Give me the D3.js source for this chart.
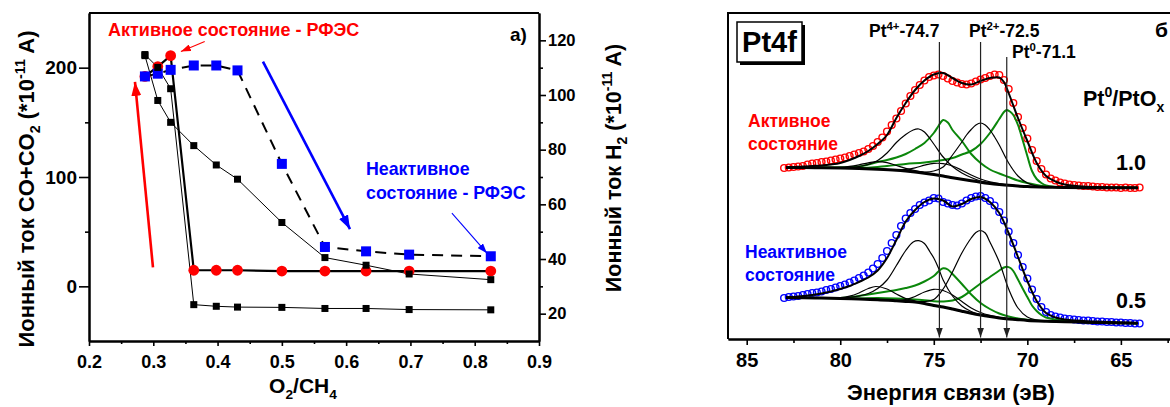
<!DOCTYPE html>
<html><head><meta charset="utf-8">
<script src="https://cdn.jsdelivr.net/npm/d3@7"></script>
<style>
html,body{margin:0;padding:0;background:#fff;}
svg{display:block;}
text{font-family:'Liberation Sans',Arial,sans-serif;font-weight:bold;fill:#000;}
</style>
</head><body>
<svg id="c" width="1170" height="407"></svg>
<script>
// ---------------- LEFT PANEL DATA ----------------
const ratio = [0.287,0.307,0.327,0.363,0.398,0.431,0.5,0.567,0.631,0.698,0.825];
const activeXPS   = [192,201,211,14.7,14.7,14.7,14,14,14,14,14];          // red circles (left axis)
const inactiveXPS = [192,194.5,198,202,202,197.5,112,36,32,29,27.5];     // blue squares (left axis)
const coTotal     = [211,170,150,128.7,111,98,58.4,26.3,19.3,11.3,6.1];   // black squares (left axis)
const h2Current   = [114.8,110.1,102.3,23.3,22.7,22.4,22.3,21.9,21.9,21.5,21.4]; // black squares (right axis)

const xTicksL = [0.2,0.3,0.4,0.5,0.6,0.7,0.8,0.9];
const xMinorL = [0.25,0.35,0.45,0.55,0.65,0.75,0.85];
const yTicksL = [0,100,200];
const yMinorL = [50,150];
const yTicksR = [20,40,60,80,100,120];
const yMinorR = [30,50,70,90,110];

// ---------------- RIGHT PANEL DATA ----------------
const dataEnergy = [83,82.75,82.5,82.25,82,81.75,81.5,81.25,81,80.75,80.5,80.25,80,79.75,79.5,79.25,79,78.75,78.5,78.25,78,77.75,77.5,77.25,77,76.75,76.5,76.25,76,75.75,75.5,75.25,75,74.75,74.5,74.25,74,73.75,73.5,73.25,73,72.75,72.5,72.25,72,71.75,71.5,71.25,71,70.75,70.5,70.25,70,69.75,69.5,69.25,69,68.75,68.5,68.25,68,67.75,67.5,67.25,67,66.75,66.5,66.25,66,65.75,65.5,65.25,65,64.75,64.5,64.25,64];
const activeCounts = [171,171.5,172,172.5,173,174.5,175.5,176,177,177.5,178.5,179.5,180.5,181.5,183,184.5,186,187.5,190,193,197,201.5,207.5,214,220.5,228,235.5,243,249,254,258.5,262,263.5,264.5,263,260.5,258,256.5,255,254.5,255.5,257.5,259.5,261,263,264.5,264,259,250,236,222,211,200.5,189,178,170,164.5,160.5,158.5,156.5,155.5,154.5,154,153.5,153,153,152.5,152,152,151.5,151.5,151.5,151,151.5,151,151,151.5];
const inactiveCounts = [41,42,42.5,43,44,45,46,46.5,47.5,49,50,51.5,53,54.5,56.5,58.5,61,63.5,66.5,70.5,75,81,88,96,104,113,120.5,126,130,134,136.5,138.5,141,140.5,137,135.5,134,133.5,135.5,138.5,141,142.5,143,141,138,133.5,127,118.5,107.5,96,84,72,60.5,49.5,40,32,27,24,22.5,21.5,20.5,20,19.5,19,18.5,18.5,18,17.5,17.5,17,17,16.5,16.5,16,16,15.5,15.5];

const envActive = [[82.9,171.5],[82.5,171.8],[82,172.5],[81.5,173],[81,173.5],[80.5,174.5],[80,176],[79.5,179],[79,183],[78.5,188],[78,195],[77.5,204],[77,221],[76.5,236],[76,249],[75.5,258.5],[75,264.5],[74.5,266],[74,261],[73.5,256],[73,254.5],[72.5,258],[72,261],[71.5,261.5],[71.25,257],[71,246],[70.5,221],[70,198],[69.5,176],[69,163],[68.5,157.5],[68,154.5],[67,152.5],[66,151.8],[65,151.3],[64.1,151.3]];
const bgActive = [[82.9,171.5],[82,171.4],[81,171.3],[80,171],[79,170.5],[78,169.8],[77,168.8],[76.5,168],[76,167],[75.5,165.8],[75,164.5],[74.5,163],[74,161.3],[73.5,159.7],[73,158.2],[72.5,156.8],[72,155.6],[71.5,154.6],[71,153.7],[70.5,153],[70,152.4],[69,151.8],[68,151.5],[66,151.3],[64.1,151.3]];
const greenA1 = [[82.9,171.5],[81,171.4],[80,171.5],[79,172.5],[78.5,174.5],[78,177],[77.5,179],[77,181.5],[76.5,185],[76,190],[75.5,196],[75,206],[74.75,213],[74.5,219],[74.25,216.5],[74,209],[73.5,198],[73,185],[72.5,176],[72,169.5],[71.5,165.5],[71,162],[70.5,158.5],[70,156],[69.5,154],[69,152.5],[68,151.6],[66,151.3],[64.1,151.3]];
const greenA2 = [[82.9,171.5],[80,171.2],[78.5,171.2],[77.5,173],[76.5,175],[75.5,176.5],[74.5,179],[74,181],[73.5,184.5],[73,188],[72.5,195],[72,206],[71.5,220],[71.25,227],[71.1,229],[70.9,227],[70.75,224],[70.5,214],[70.25,199],[70,183],[69.75,168],[69.5,160],[69.25,156],[69,153.5],[68.5,152],[68,151.6],[66,151.3],[64.1,151.3]];
const blackA1 = [[82.9,171.5],[81,171.3],[80,171.2],[79.5,171.6],[79,172.5],[78.5,174.5],[78,178.5],[77.5,186],[77,196.5],[76.5,204.5],[76.1,209],[75.8,210],[75.5,207],[75,195],[74.5,182],[74,172.5],[73.5,166],[73,161.5],[72.5,158],[72,156],[71.5,154.7],[71,153.8],[70,152.4],[68,151.5],[64.1,151.3]];
const blackA2 = [[82.9,171.5],[78,169.9],[76.5,168.2],[76,167.5],[75.5,167],[75,168],[74.5,172],[74,184],[73.5,197],[73.25,204],[73,209.5],[72.75,214],[72.5,216],[72.25,214],[72,209],[71.75,202],[71.5,194],[71,176],[70.5,163],[70,156],[69.5,153],[69,152],[68,151.5],[64.1,151.3]];
const blackA3 = [[82.9,171.5],[81,171.4],[80,171.6],[79.5,172.6],[79,174.2],[78.5,176.2],[78,177.3],[77.5,176.3],[77,173.5],[76.5,170.6],[76,168.3],[75.5,166.3],[75,164.7],[74,161.4],[72,155.6],[70,152.4],[68,151.5],[64.1,151.3]];
const blackA4 = [[82.9,171.5],[78,169.9],[77,169.2],[76.5,169.6],[76,171.2],[75.5,173.8],[75,175.6],[74.5,175.4],[74,173],[73.5,168.8],[73,164],[72.5,160],[72,157.2],[71.5,155.4],[71,154.1],[70,152.5],[68,151.5],[64.1,151.3]];

const envInactive = [[82.9,41.5],[82.5,42],[82,43],[81.5,44],[81,45.5],[80.5,47.5],[80,50],[79.5,53],[79,57],[78.5,61.5],[78,68.5],[77.5,81],[77,99],[76.5,117.5],[76,129],[75.5,137],[75,140.5],[74.5,138.5],[74,132.5],[73.5,135],[73,140],[72.5,142],[72,137],[71.5,126],[71,106],[70.5,82],[70,58],[69.5,38],[69,26],[68.5,21.5],[68,19.5],[67,18],[66,17.2],[65,16.5],[64.1,15.7]];
const bgInactive = [[82.9,41.5],[82,41.2],[81,40.9],[80,40.5],[79,40],[78,39.3],[77,38.2],[76.5,37.6],[76,37],[75.5,35.5],[75,33.5],[74.5,32],[74,30],[73.5,27.8],[73,25.7],[72.5,23.9],[72,22.4],[71.5,21.1],[71,20.1],[70.5,19.3],[70,18.6],[69,17.8],[68,17.2],[67,16.8],[66,16.4],[65,16],[64.1,15.7]];
const greenI1 = [[82.9,41.5],[81,41],[80,41],[79.5,41.8],[79,43],[78.5,44.5],[78,46],[77.5,47.5],[77,49],[76.5,51],[76,53.5],[75.5,57.5],[75,63],[74.75,67.5],[74.5,70.7],[74.25,69.5],[74,65],[73.5,55],[73,44.5],[72.5,36],[72,30],[71.5,25.5],[71,22.5],[70.5,20.5],[70,19.2],[69,17.9],[68,17.2],[66,16.4],[64.1,15.7]];
const greenI2 = [[82.9,41.5],[80,40.7],[79,40.6],[78,41],[77,40.5],[76,39.5],[75,37.8],[74.5,37.6],[74,38.5],[73.5,42],[73,48.5],[72.5,55.5],[72,62],[71.5,68.5],[71.25,71.5],[71.1,72.3],[70.9,71],[70.75,68],[70.5,59.5],[70.25,50.5],[70,42],[69.75,33.5],[69.5,28],[69.25,24],[69,21.5],[68.5,19.5],[68,18.2],[67,17],[66,16.4],[64.1,15.7]];
const blackI1 = [[82.9,41.5],[81,41],[80,41],[79.5,41.8],[79,43],[78.5,45.5],[78,50.5],[77.5,59],[77,73.5],[76.5,88.5],[76.1,97],[75.8,98.3],[75.5,95.5],[75.2,87],[75,81],[74.75,71],[74.5,59],[74,43],[73.5,33],[73,27.5],[72.5,24.5],[72,22.6],[71.5,21.2],[71,20.2],[70,18.6],[68,17.2],[66,16.4],[64.1,15.7]];
const blackI2 = [[82.9,41.5],[78,39.4],[76.5,37.8],[76,37.4],[75.5,37.5],[75,39.5],[74.5,50],[74,67],[73.5,86],[73,101],[72.75,106.5],[72.5,108.5],[72.25,106],[72,97],[71.5,77],[71,50],[70.5,31],[70,22],[69.5,19],[69,17.9],[68,17.2],[66,16.4],[64.1,15.7]];
const blackI3 = [[82.9,41.5],[81,41],[80,41.3],[79.5,42.8],[79,46],[78.5,50.5],[78.1,52.5],[77.5,50],[77,45],[76.5,40.5],[76,38],[75.5,35.8],[75,33.6],[74,30],[72,22.4],[70,18.6],[68,17.2],[64.1,15.7]];
const blackI4 = [[82.9,41.5],[78,39.4],[77,38.6],[76.5,39.5],[76,42.5],[75.5,47],[75,49.7],[74.5,48.5],[74,44],[73.5,37.5],[73,31],[72.5,26.5],[72,23.6],[71.5,21.6],[71,20.3],[70,18.7],[68,17.2],[64.1,15.7]];

const peakLines = [{e:74.7, top:297, label:'Pt', sup:'4+', rest:'-74.7'},
                   {e:72.5, top:297, label:'Pt', sup:'2+', rest:'-72.5'},
                   {e:71.1, top:282, label:'Pt', sup:'0',  rest:'-71.1'}];
const xTicksE = [85,80,75,70,65];
const xMinorE = [82.5,77.5,72.5,67.5,62.5];

// ---------------- SETUP ----------------
const svg = d3.select('#c');
svg.append('rect').attr('width',1170).attr('height',407).attr('fill','#fff');
const defs = svg.append('defs');
function mkArrow(id, color, w, l){
  defs.append('marker').attr('id',id).attr('viewBox',`0 0 ${l} ${w}`)
    .attr('refX',l).attr('refY',w/2).attr('markerWidth',l).attr('markerHeight',w)
    .attr('markerUnits','userSpaceOnUse').attr('orient','auto')
    .append('path').attr('d',`M0,0L${l},${w/2}L0,${w}Z`).attr('fill',color);
}
mkArrow('arRedBig','#ff0000',10,14);
mkArrow('arBlueBig','#0000ff',10,14);
mkArrow('arRedSm','#ff0000',7,10);
mkArrow('arBlueSm','#0000ff',7,10);
mkArrow('arBlk','#222',7,10);

function rich(sel, parts, size){
  let shift = 0;
  parts.forEach(p=>{
    const ts = sel.append('tspan').text(p.t);
    const target = p.s==='sup' ? -0.42*size : (p.s==='sub' ? 0.28*size : 0);
    if (target-shift !== 0) ts.attr('dy', target-shift);
    shift = target;
    if (p.s) ts.attr('font-size', (size*0.65).toFixed(1)+'px');
  });
}

// ---------------- LEFT PANEL ----------------
const xL = d3.scaleLinear().domain([0.2,0.9]).range([89,539]);
const yL = d3.scaleLinear().domain([-50,250]).range([341,13]);
const yR = d3.scaleLinear().domain([10,130]).range([341,13]);
const gL = svg.append('g');

const lineOf = (ys, sc) => d3.line().x((d,i)=>xL(ratio[i])).y(d=>sc(d))(ys);
gL.append('path').attr('d',lineOf(activeXPS,yL)).attr('fill','none').attr('stroke','#000').attr('stroke-width',2.2);
gL.append('path').attr('d',lineOf(inactiveXPS,yL)).attr('fill','none').attr('stroke','#000').attr('stroke-width',2).attr('stroke-dasharray','11,8');
gL.append('path').attr('d',lineOf(coTotal,yL)).attr('fill','none').attr('stroke','#000').attr('stroke-width',1);
gL.append('path').attr('d',lineOf(h2Current,yR)).attr('fill','none').attr('stroke','#000').attr('stroke-width',1);

gL.selectAll('circle.act').data(activeXPS).join('circle').attr('class','act')
  .attr('cx',(d,i)=>xL(ratio[i])).attr('cy',d=>yL(d)).attr('r',5.4).attr('fill','#ff0000');
gL.selectAll('rect.inact').data(inactiveXPS).join('rect').attr('class','inact')
  .attr('x',(d,i)=>xL(ratio[i])-5).attr('y',d=>yL(d)-5).attr('width',10).attr('height',10).attr('fill','#0000ff');
gL.selectAll('rect.co').data(coTotal).join('rect').attr('class','co')
  .attr('x',(d,i)=>xL(ratio[i])-3.5).attr('y',d=>yL(d)-3.5).attr('width',7).attr('height',7).attr('fill','#000');
gL.selectAll('rect.h2').data(h2Current).join('rect').attr('class','h2')
  .attr('x',(d,i)=>xL(ratio[i])-3.5).attr('y',d=>yR(d)-3.5).attr('width',7).attr('height',7).attr('fill','#000');

// axes
const axB = gL.append('g').attr('transform','translate(0,341)')
  .call(d3.axisBottom(xL).tickValues(xTicksL).tickFormat(d3.format('.1f')).tickSize(5).tickSizeOuter(0));
axB.selectAll('text').attr('y',27).attr('dy',null).style('font-size','18px');
gL.append('g').attr('transform','translate(0,341)')
  .call(d3.axisBottom(xL).tickValues(xMinorL).tickFormat('').tickSize(3).tickSizeOuter(0));
const axLft = gL.append('g').attr('transform','translate(89,0)')
  .call(d3.axisLeft(yL).tickValues(yTicksL).tickSize(10).tickPadding(2).tickSizeOuter(0));
axLft.selectAll('text').style('font-size','19px');
gL.append('g').attr('transform','translate(89,0)')
  .call(d3.axisLeft(yL).tickValues(yMinorL).tickFormat('').tickSize(4).tickSizeOuter(0));
const axRt = gL.append('g').attr('transform','translate(539,0)')
  .call(d3.axisRight(yR).tickValues(yTicksR).tickSize(7).tickPadding(2).tickSizeOuter(0));
axRt.selectAll('text').style('font-size','16.5px');
gL.append('g').attr('transform','translate(539,0)')
  .call(d3.axisRight(yR).tickValues(yMinorR).tickFormat('').tickSize(4).tickSizeOuter(0));
gL.append('line').attr('x1',89).attr('x2',539).attr('y1',13).attr('y2',13).attr('stroke','#000').attr('stroke-width',2);
gL.selectAll('.domain').attr('stroke-width',2);
gL.selectAll('.tick line').attr('stroke-width',1.6);

// annotations (data coordinates)
function arrowL(x1,y1,x2,y2,color,w,marker){
  gL.append('line').attr('x1',xL(x1)).attr('y1',yL(y1)).attr('x2',xL(x2)).attr('y2',yL(y2))
    .attr('stroke',color).attr('stroke-width',w).attr('marker-end',`url(#${marker})`);
}
arrowL(0.2995,17.4,0.2715,187,'#ff0000',2.6,'arRedBig');
arrowL(0.4706,205.5,0.606,52.3,'#0000ff',2.6,'arBlueBig');
arrowL(0.380,223.9,0.343,214.7,'#ff0000',1.1,'arRedSm');
arrowL(0.7645,67,0.819,30.3,'#0000ff',1.1,'arBlueSm');

svg.append('text').attr('x',108).attr('y',36).style('fill','#ff0000').style('font-size','18px').text('Активное состояние - РФЭС');
svg.append('text').attr('x',366).attr('y',175).style('fill','#0000ff').style('font-size','17.8px').text('Неактивное');
svg.append('text').attr('x',366).attr('y',199).style('fill','#0000ff').style('font-size','17.8px').text('состояние - РФЭС');
svg.append('text').attr('x',510).attr('y',41).style('font-size','19px').text('а)');

const tL = svg.append('text').attr('transform','translate(34,189) rotate(-90)').attr('text-anchor','middle').style('font-size','22px');
rich(tL,[{t:'Ионный ток CO+CO'},{t:'2',s:'sub'},{t:' (*10'},{t:'-11',s:'sup'},{t:' A)'}],22);
const tR = svg.append('text').attr('transform','translate(621,168) rotate(-90)').attr('text-anchor','middle').style('font-size','21.5px');
rich(tR,[{t:'Ионный ток H'},{t:'2',s:'sub'},{t:' (*10'},{t:'-11',s:'sup'},{t:' A)'}],21.5);
const tX = svg.append('text').attr('x',303).attr('y',393).attr('text-anchor','middle').style('font-size','21px');
rich(tX,[{t:'O'},{t:'2',s:'sub'},{t:'/CH'},{t:'4',s:'sub'}],21);

// ---------------- RIGHT PANEL ----------------
const xE = d3.scaleLinear().domain([86,62]).range([728,1177]);
const yS = d3.scaleLinear().domain([0,326]).range([339,13]);
const gR = svg.append('g');
const curve = d3.line().x(d=>xE(d[0])).y(d=>yS(d[1])).curve(d3.curveCatmullRom.alpha(0.5));

// data circles
gR.selectAll('circle.sa').data(activeCounts).join('circle').attr('class','sa')
  .attr('cx',(d,i)=>xE(dataEnergy[i])).attr('cy',d=>yS(d)).attr('r',3.4)
  .attr('fill','none').attr('stroke','#ff0000').attr('stroke-width',1.4);
gR.selectAll('circle.si').data(inactiveCounts).join('circle').attr('class','si')
  .attr('cx',(d,i)=>xE(dataEnergy[i])).attr('cy',d=>yS(d)).attr('r',3.4)
  .attr('fill','none').attr('stroke','#0000ff').attr('stroke-width',1.4);

const green = '#0b870b';
[[greenA1,green,2],[greenA2,green,2],[greenI1,green,2],[greenI2,green,2],
 [blackA1,'#000',1.2],[blackA2,'#000',1.2],[blackA3,'#000',1.2],[blackA4,'#000',1.2],
 [blackI1,'#000',1.2],[blackI2,'#000',1.2],[blackI3,'#000',1.2],[blackI4,'#000',1.2],
 [bgActive,'#000',3],[bgInactive,'#000',3],
 [envActive,'#000',2],[envInactive,'#000',2]].forEach(([d,c,w])=>{
  gR.append('path').attr('d',curve(d)).attr('fill','none').attr('stroke',c).attr('stroke-width',w);
});

// reference lines with arrows
peakLines.forEach(p=>{
  gR.append('line').attr('x1',xE(p.e)).attr('x2',xE(p.e)).attr('y1',yS(p.top)).attr('y2',yS(1.5))
    .attr('stroke','#222').attr('stroke-width',1.2).attr('marker-end','url(#arBlk)');
});
const lblPos = [[869,37],[969,37],[1012,58]];
peakLines.forEach((p,i)=>{
  const t = svg.append('text').attr('x',lblPos[i][0]).attr('y',lblPos[i][1]).style('font-size','17.5px');
  rich(t,[{t:p.label},{t:p.sup,s:'sup'},{t:p.rest}],17.5);
});

// axes right panel
const axE = gR.append('g').attr('transform','translate(0,339)')
  .call(d3.axisBottom(xE).tickValues(xTicksE).tickSize(6).tickSizeOuter(0));
axE.selectAll('text').attr('y',28).attr('dy',null).style('font-size','20px');
gR.append('g').attr('transform','translate(0,339)')
  .call(d3.axisBottom(xE).tickValues(xMinorE).tickFormat('').tickSize(4).tickSizeOuter(0));
gR.selectAll('.domain').attr('stroke-width',2);
gR.selectAll('.tick line').attr('stroke-width',1.6);
gR.append('line').attr('x1',728).attr('x2',728).attr('y1',13).attr('y2',339).attr('stroke','#000').attr('stroke-width',2);
gR.append('line').attr('x1',727).attr('x2',1177).attr('y1',13).attr('y2',13).attr('stroke','#000').attr('stroke-width',2);

// Pt4f box
svg.append('rect').attr('x',740).attr('y',25).attr('width',65).attr('height',40).attr('fill','#000');
svg.append('rect').attr('x',737).attr('y',22).attr('width',65).attr('height',40).attr('fill','#fff').attr('stroke','#000').attr('stroke-width',1.5);
svg.append('text').attr('x',769.5).attr('y',52).attr('text-anchor','middle').style('font-size','29px').text('Pt4f');

svg.append('text').attr('x',1155).attr('y',37).style('font-size','21px').text('б');
const tP = svg.append('text').attr('x',1083).attr('y',106).style('font-size','21.5px');
rich(tP,[{t:'Pt'},{t:'0',s:'sup'},{t:'/PtO'},{t:'x',s:'sub'}],21.5);
svg.append('text').attr('x',1116).attr('y',170).style('font-size','21.5px').text('1.0');
svg.append('text').attr('x',1116).attr('y',308).style('font-size','21.5px').text('0.5');
svg.append('text').attr('x',748).attr('y',127).style('fill','#ff0000').style('font-size','17.5px').text('Активное');
svg.append('text').attr('x',748).attr('y',150).style('fill','#ff0000').style('font-size','17.5px').text('состояние');
svg.append('text').attr('x',745).attr('y',258).style('fill','#0000ff').style('font-size','17.5px').text('Неактивное');
svg.append('text').attr('x',745).attr('y',281).style('fill','#0000ff').style('font-size','17.5px').text('состояние');
svg.append('text').attr('x',951).attr('y',400).attr('text-anchor','middle').style('font-size','22px').text('Энергия связи (эВ)');
</script>
</body></html>
